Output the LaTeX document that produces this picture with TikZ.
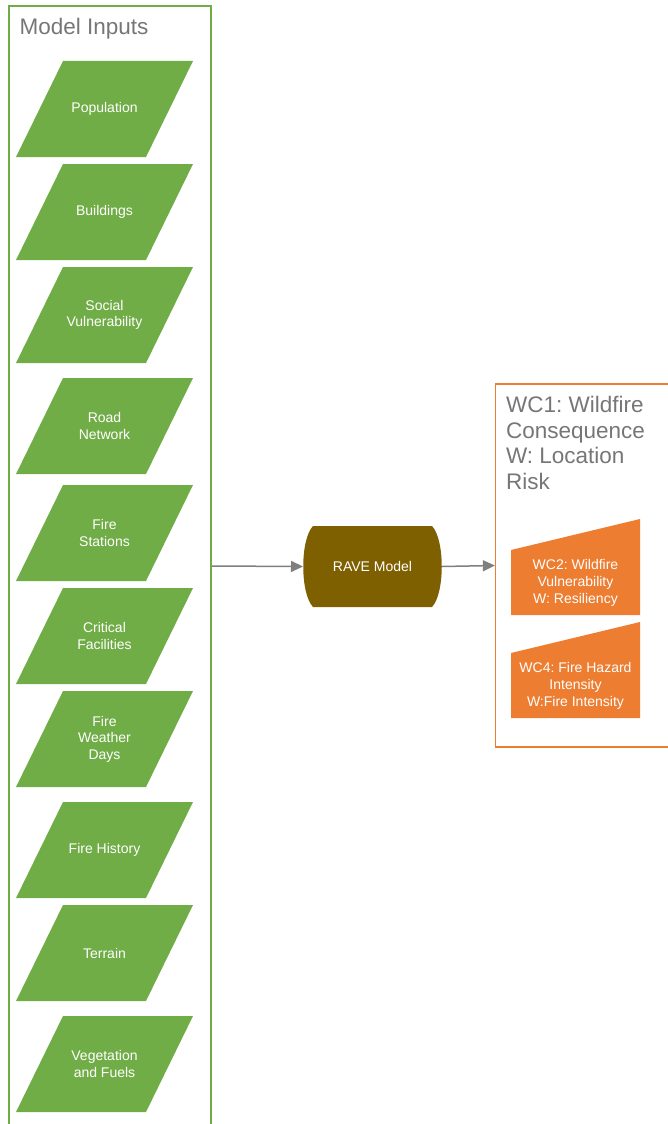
\documentclass[tikz,border=0pt]{standalone}
\usepackage{fontspec}
\setmainfont{Liberation Sans}
\usepackage{tikz}
\usetikzlibrary{arrows.meta,positioning,backgrounds,calc}
\definecolor{ingreen}{HTML}{70AD47}
\definecolor{outorange}{HTML}{ED7D31}
\definecolor{ravebrown}{HTML}{7F6000}
\definecolor{linegray}{HTML}{7F7F7F}
\definecolor{titlegray}{HTML}{767676}
\tikzstyle{container} = [rectangle, line width=1.3pt, inner sep=0pt]
\tikzstyle{boxtitle} = [anchor=north west, inner sep=0pt, align=left, text=titlegray, font=\fontsize{22.5}{25.5}\selectfont]
\tikzstyle{datain} = [rectangle, minimum width=177pt, minimum height=96pt, inner sep=0pt, outer sep=0pt, align=center, text=white, font=\fontsize{14}{16.5}\selectfont]
\tikzstyle{model} = [rectangle, minimum width=139pt, minimum height=81pt, outer sep=0pt, text=white, font=\fontsize{14}{16.5}\selectfont]
\tikzstyle{manualin} = [rectangle, minimum width=129pt, minimum height=65pt, inner sep=0pt, outer sep=0pt, align=center, text=white, font=\fontsize{14}{17}\selectfont]
\tikzstyle{arrow} = [draw=linegray, line width=1.5pt, -{Triangle[length=12pt,width=11pt]}]

\begin{document}
\frenchspacing
\begin{tikzpicture}[x=1pt, y=-1pt]
	\useasboundingbox (0,0) rectangle (668,1124);

	\node (inputs) [container, draw=ingreen, minimum width=202pt, minimum height=1120pt] at (110,566) {};
	\node (intitle) [boxtitle] at ([xshift=11pt,yshift=-13pt]inputs.north west) {Model Inputs};

	\node (pop) [datain] at (104.5,109) {Population};
	\node (bldg) [datain, below=7pt of pop] {Buildings};
	\node (social) [datain, below=7pt of bldg] {Social\\Vulnerability};
	\node (road) [datain, below=15pt of social] {Road\\Network};
	\node (stations) [datain, below=11pt of road] {Fire\\Stations};
	\node (critical) [datain, below=7pt of stations] {Critical\\Facilities};
	\node (weather) [datain, below=7pt of critical] {Fire\\Weather\\Days};
	\node (history) [datain, below=15pt of weather] {Fire History};
	\node (terrain) [datain, below=7pt of history] {Terrain};
	\node (fuels) [datain, below=15pt of terrain] {Vegetation\\and Fuels};

	\node (rave) [model] at (372.5,566.5) {RAVE Model};

	\node (outputs) [container, draw=outorange, minimum width=200pt, minimum height=363pt] at (595.5,565.5) {};
	\node (outtitle) [boxtitle] at ([xshift=11pt,yshift=-13pt]outputs.north west) {WC1: Wildfire\\Consequence\\W: Location\\Risk};

	\node (wc2) [manualin] at (575.5,582.5) {WC2: Wildfire\\Vulnerability\\W: Resiliency};
	\node (wc4) [manualin, below=38pt of wc2] {WC4: Fire Hazard\\Intensity\\W:Fire Intensity};

	\begin{scope}[on background layer]
	% slanted data shapes
	\foreach \d in {pop,bldg,social,road,stations,critical,weather,history,terrain,fuels}
		\fill[ingreen] (\d.south west) -- ([xshift=-47pt]\d.south east) -- (\d.north east) -- ([xshift=47pt]\d.north west) -- cycle;
	% model with curved sides
	\fill[ravebrown] ([xshift=10pt]rave.north west) -- ([xshift=-10pt]rave.north east)
		.. controls ([xshift=3pt,yshift=-13.5pt]rave.north east) and ([xshift=3pt,yshift=13.5pt]rave.south east) .. ([xshift=-10pt]rave.south east)
		-- ([xshift=10pt]rave.south west)
		.. controls ([xshift=-3pt,yshift=13.5pt]rave.south west) and ([xshift=-3pt,yshift=-13.5pt]rave.north west) .. cycle;
	% manual input shapes
	\foreach \m in {wc2,wc4}
		\fill[outorange] (\m.south west) -- (\m.north west) -- ([yshift=31pt]\m.north east) -- (\m.south east) -- cycle;
	\end{scope}

	\draw[arrow] (inputs.east) -- (rave.west);
	\draw[arrow] (rave.east) -- (outputs.west);

\end{tikzpicture}
\end{document}
